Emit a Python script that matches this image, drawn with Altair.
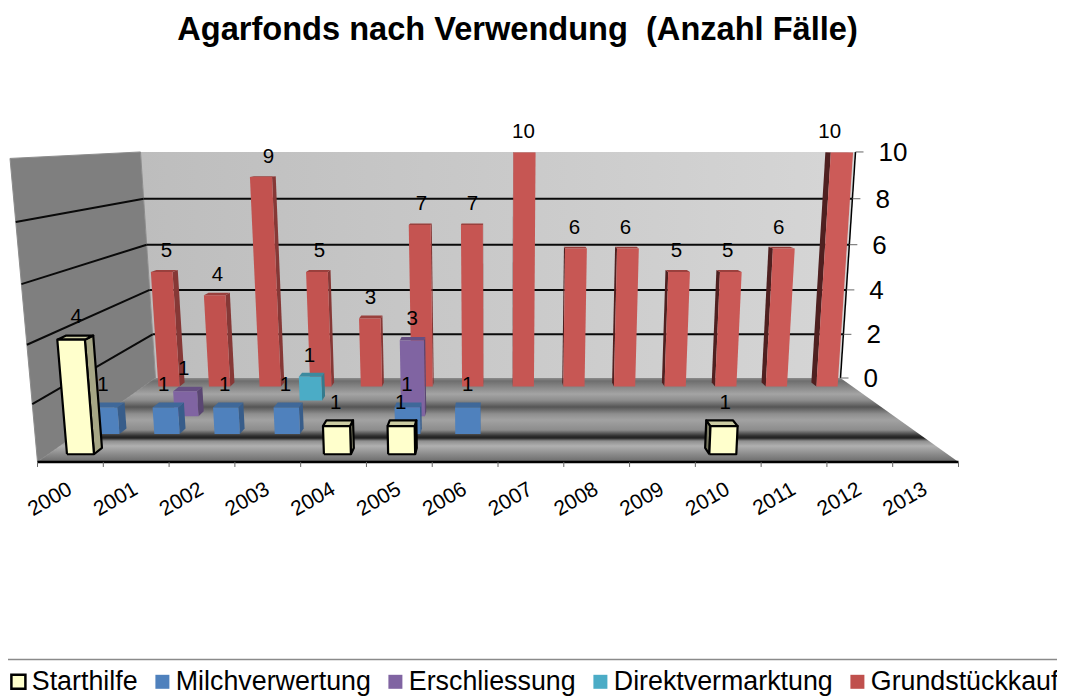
import altair as alt
import pandas as pd

# ---- values ----
years = list(range(2000, 2014))
series = ["Starthilfe", "Milchverwertung", "Erschliessung", "Direktvermarktung", "Grundstückkauf"]
starthilfe = [4, 0, 0, 0, 1, 1, 0, 0, 0, 0, 1, 0, 0, 0]
milch = [1, 1, 1, 1, 0, 1, 1, 0, 0, 0, 0, 0, 0, 0]
erschl = [0, 1, 0, 0, 0, 3, 0, 0, 0, 0, 0, 0, 0, 0]
direkt = [0, 0, 0, 1, 0, 0, 0, 0, 0, 0, 0, 0, 0, 0]
grund = [5, 4, 9, 5, 3, 7, 7, 10, 6, 6, 5, 5, 6, 10]
y_ticks = [0, 2, 4, 6, 8, 10]
title_text = "Agarfonds nach Verwendung\u00a0\u00a0(Anzahl Fälle)"

fill_colors = ["#FFFFCC", "#4F81BD", "#8064A2", "#4BACC6", "#C0504D"]
top_colors = ["#CCCCA3", "#3F6899", "#664F82", "#3C8A9F", "#9A403D"]
side_l_colors = ["#A6A685", "#385D8A", "#5A4672", "#357A8C", "#863836"]
side_r_colors = ["#7A7A62", "#2B4768", "#453657", "#295E6B", "#4F2020"]
stroke_colors = ["#000000", "transparent", "transparent", "transparent", "transparent"]
stroke_widths = [2.2, 0, 0, 0, 0]
red_right = "#CC5B58"

# ---- perspective model of the 3D plot box ----
CX = 498.0


def project(u, d, v):
    """u: category position 0..14, d: depth 0 (back)..1 (front), v: value 0..10"""
    w = 0.0029197 - 0.000748 * d - 0.0001225 * v / 10
    yw = 1.10365 - 0.1004 * d - 0.6786 * v / 10
    return CX + (u - 7) / 7 / w, yw / w


def blend(a, b, t):
    ca = [int(a[i:i + 2], 16) for i in (1, 3, 5)]
    cb = [int(b[i:i + 2], 16) for i in (1, 3, 5)]
    return "#" + "".join(f"{round(x + (y - x) * t):02X}" for x, y in zip(ca, cb))


row_front = {0: 0.93, 1: 0.73, 2: 0.53, 3: 0.33, 4: 0.13}
BAR_DEPTH = 0.06
BAR_W = 0.42

polys = []
squares = []
labels = []
pid = 0


def add_poly(corners, fill, stroke, sw):
    global pid
    pid += 1
    key = f"p{pid:04d}"
    closed = corners + [corners[0]]
    for i, (u, d, v) in enumerate(closed):
        px, py = project(u, d, v)
        polys.append(dict(poly=key, seq=i, px=px, py=py, fill=fill, stroke=stroke, sw=sw))


table = [starthilfe, milch, erschl, direkt, grund]
for s in [4, 3, 2, 1, 0]:
    vals = table[s]
    df_, db_ = row_front[s], row_front[s] - BAR_DEPTH
    order = sorted(range(14), key=lambda i: -abs(i + 0.5 - 7))
    for i in order:
        v = vals[i]
        if v == 0:
            continue
        u0, u1 = i + 0.5 - BAR_W / 2, i + 0.5 + BAR_W / 2
        sc, sw = stroke_colors[s], stroke_widths[s]
        if i + 0.5 < 7:
            add_poly([(u1, df_, 0), (u1, db_, 0), (u1, db_, v), (u1, df_, v)], side_l_colors[s], sc, sw)
        else:
            add_poly([(u0, df_, 0), (u0, db_, 0), (u0, db_, v), (u0, df_, v)], side_r_colors[s], sc, sw)
        add_poly([(u0, df_, v), (u1, df_, v), (u1, db_, v), (u0, db_, v)], top_colors[s], sc, sw)
        front = blend(fill_colors[s], red_right, i / 13) if s == 4 else fill_colors[s]
        add_poly([(u0, df_, 0), (u1, df_, 0), (u1, df_, v), (u0, df_, v)], front, sc, sw)
        lx = project(i + 0.5, df_ + 0.03, 0)[0]
        ly = project(i + 0.5, db_, v)[1]
        labels.append(dict(px=lx, py=ly - 17 - 0.3 * v, text=str(v)))
        cx_, cy_ = project(i + 0.5, df_, 0)
        squares.append(dict(px=cx_, py=cy_, series=series[s]))

polys = pd.DataFrame(polys)
labels = pd.DataFrame(labels)
squares = pd.DataFrame(squares)

X = alt.X("px:Q", scale=alt.Scale(domain=[8, 1057], range=[0, 1049]), axis=None)
Y = alt.Y("py:Q", scale=alt.Scale(domain=[56, 696], range=[0, 640]), axis=None)
X2 = alt.X2("px2:Q")
Y2 = alt.Y2("py2:Q")


def trapezoid(d0, v0, d1, v1):
    a0, y0 = project(0, d0, v0)
    b0, _ = project(14, d0, v0)
    a1, y1 = project(0, d1, v1)
    b1, _ = project(14, d1, v1)
    return pd.DataFrame([dict(py=y0, px=a0, px2=b0), dict(py=y1, px=a1, px2=b1)])


# back wall
back_wall = alt.Chart(trapezoid(0, 10, 0, 0)).mark_area(
    orient="horizontal",
    color=alt.Gradient(
        gradient="linear", x1=0, x2=1, y1=0, y2=0,
        stops=[alt.GradientStop(offset=0, color="#BDBDBD"), alt.GradientStop(offset=1, color="#D6D6D6")],
    ),
).encode(y=Y, x=X, x2=X2)

# left wall
wall_pts = [(0, 1, 0), (0, 0, 0), (0, 0, 10), (0, 1, 10), (0, 1, 0)]
left_wall = alt.Chart(pd.DataFrame(
    [dict(seq=i, px=project(*p)[0], py=project(*p)[1]) for i, p in enumerate(wall_pts)]
)).mark_line(filled=True, fill="#7F7F7F", stroke="#8C8C8C", strokeWidth=1).encode(
    x=X, y=Y, order="seq:Q"
)

# grid lines
grid_rows = []
for v in y_ticks[1:]:
    a = project(0, 1, v)
    b = project(0, 0, v)
    c = project(14, 0, v)
    if v < 10:
        grid_rows.append(dict(px=a[0], py=a[1], px2=b[0], py2=b[1]))
        grid_rows.append(dict(px=b[0], py=b[1], px2=c[0], py2=c[1]))
grid = alt.Chart(pd.DataFrame(grid_rows)).mark_rule(color="#0A0A0A", strokeWidth=2).encode(x=X, y=Y, x2=X2, y2=Y2)

# floor with its grey bands
y_back, y_front = project(0, 0, 0)[1], project(0, 1, 0)[1]
band_stops = [(378, "#8C8C8C"), (381, "#6E6E6E"), (394, "#A4A4A4"), (400, "#8E8E8E"), (407, "#555555"),
              (414, "#8E8E8E"), (420, "#A2A2A2"), (430, "#8C8C8C"), (436, "#2E2E2E"), (438, "#222222"),
              (441, "#8E8E8E"), (446, "#B0B0B0"), (453, "#909090"), (462, "#6A6A6A")]
floor = alt.Chart(trapezoid(0, 0, 1, 0)).mark_area(
    orient="horizontal",
    color=alt.Gradient(
        gradient="linear", x1=0, x2=0, y1=0, y2=1,
        stops=[alt.GradientStop(offset=(y - y_back) / (y_front - y_back), color=c) for y, c in band_stops],
    ),
).encode(y=Y, x=X, x2=X2)

# bars
bars = alt.Chart(polys).mark_line(filled=True, strokeJoin="round").encode(
    x=X, y=Y, order="seq:Q", detail="poly:N",
    fill=alt.Fill("fill:N", scale=None),
    stroke=alt.Stroke("stroke:N", scale=None),
    strokeWidth=alt.StrokeWidth("sw:Q", scale=None),
)

bar_labels = alt.Chart(labels).mark_text(
    font="Liberation Sans", fontSize=20.5, color="#000000", baseline="middle"
).encode(x=X, y=Y, text="text:N")

# front edge, ticks, category labels
edge_a, edge_b = project(0, 1, 0), project(14, 1, 0)
front_edge = alt.Chart(pd.DataFrame([dict(px=edge_a[0], py=edge_a[1], px2=edge_b[0], py2=edge_b[1])])).mark_rule(
    color="#000000", strokeWidth=2.5
).encode(x=X, y=Y, x2=X2, y2=Y2)

x_tick_rows = []
for i in range(15):
    p = project(i, 1, 0)
    x_tick_rows.append(dict(px=p[0], py=p[1], px2=p[0], py2=p[1] + 5))
x_ticks = alt.Chart(pd.DataFrame(x_tick_rows)).mark_rule(color="#666666", strokeWidth=1).encode(x=X, y=Y, x2=X2, y2=Y2)

x_label_rows = []
for i, yr in enumerate(years):
    p = project(i + 0.5, 1, 0)
    x_label_rows.append(dict(px=p[0], py=p[1] + 26, text=str(yr)))
x_labels = alt.Chart(pd.DataFrame(x_label_rows)).mark_text(
    font="Liberation Sans", fontSize=21, align="right", baseline="middle", angle=330, color="#000000"
).encode(x=X, y=Y, text="text:N")

# value axis on the right edge of the back wall
ax_a, ax_b = project(14, 0, 0), project(14, 0, 10)
y_axis_line = alt.Chart(pd.DataFrame([dict(px=ax_a[0], py=ax_a[1], px2=ax_b[0], py2=ax_b[1])])).mark_rule(
    color="#000000", strokeWidth=1.5
).encode(x=X, y=Y, x2=X2, y2=Y2)

y_tick_rows, y_label_rows = [], []
for v in y_ticks:
    p = project(14, 0, v)
    y_tick_rows.append(dict(px=p[0], py=p[1], px2=p[0] + 8, py2=p[1]))
    y_label_rows.append(dict(px=p[0] + 23, py=p[1] + 1, text=str(v)))
y_tick_marks = alt.Chart(pd.DataFrame(y_tick_rows)).mark_rule(color="#666666", strokeWidth=1).encode(x=X, y=Y, x2=X2, y2=Y2)
y_labels = alt.Chart(pd.DataFrame(y_label_rows)).mark_text(
    font="Liberation Sans", fontSize=26, align="left", baseline="middle", color="#000000"
).encode(x=X, y=Y, text="text:N")

# legend source and separator
legend_cfg = alt.Legend(
    title=None, orient="none", legendX=-7, legendY=612, direction="horizontal", columns=5,
    symbolType="square", symbolSize=196, symbolStrokeWidth=2.5, labelFont="Liberation Sans", labelFontSize=26.8,
    labelColor="#000000", labelOffset=0, symbolOffset=4, columnPadding=7, symbolOpacity=1, labelLimit=400,
)
legend_marks = alt.Chart(squares).mark_square(size=1).encode(
    x=X, y=Y,
    fill=alt.Fill("series:N", sort=series, scale=alt.Scale(domain=series, range=fill_colors), legend=legend_cfg),
    stroke=alt.Stroke("series:N", sort=series, scale=alt.Scale(domain=series, range=stroke_colors), legend=legend_cfg),
)
separator = alt.Chart(pd.DataFrame([dict(px=8, py=659.5, px2=1057, py2=659.5)])).mark_rule(
    color="#8A8A8A", strokeWidth=1.5
).encode(x=X, y=Y, x2=X2, y2=Y2)

chart = alt.layer(
    legend_marks, back_wall, left_wall, grid, floor, front_edge, x_ticks, y_axis_line, y_tick_marks,
    bars, bar_labels, x_labels, y_labels, separator,
).resolve_scale(fill="independent", stroke="independent").properties(
    width=1049,
    height=640,
    padding={"left": 0, "top": 48, "right": 0, "bottom": 0},
    autosize="none",
    background="#FFFFFF",
    title=alt.TitleParams(
        text=title_text, font="Liberation Sans", fontSize=32.6, fontWeight="bold", color="#000000",
        anchor="middle", dx=-15, offset=9,
    ),
).configure_view(stroke=None)

chart.save("out.html", embed_options={"renderer": "svg", "actions": False})
